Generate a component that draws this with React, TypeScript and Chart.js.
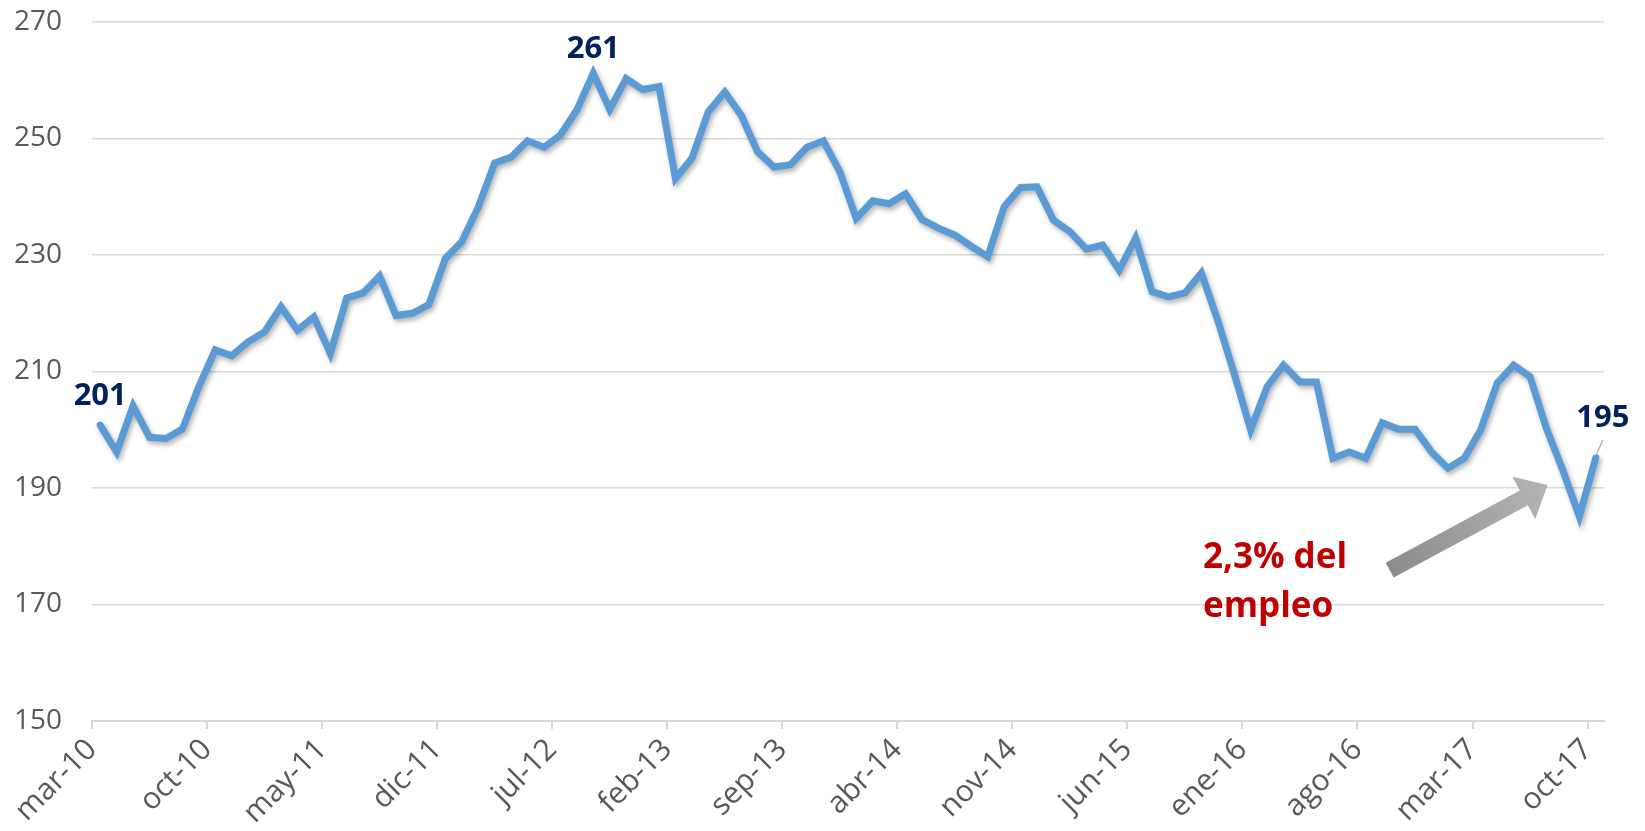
import React, { useEffect, useRef } from 'react';
import { Chart, registerables } from 'chart.js';

Chart.register(...registerables);

// ---- data ----
const tickLabels = ['mar-10', 'oct-10', 'may-11', 'dic-11', 'jul-12', 'feb-13', 'sep-13', 'abr-14', 'nov-14', 'jun-15', 'ene-16', 'ago-16', 'mar-17', 'oct-17'];
const monthsPerTick = 7;
const monthCount = 92; // mar-10 .. oct-17

const values = [
  200.8, 196.2, 204.1, 198.7, 198.5, 200.1, 207.4, 213.7, 212.7, 215.1,
  216.8, 221.1, 217.1, 219.4, 213.1, 222.6, 223.5, 226.4, 219.6, 220.0,
  221.5, 229.4, 232.3, 238.2, 245.8, 246.8, 249.6, 248.5, 250.6, 254.9,
  261.2, 255.0, 260.3, 258.4, 258.9, 243.1, 246.6, 254.6, 258.0, 254.0,
  247.7, 245.1, 245.5, 248.5, 249.6, 244.3, 236.3, 239.3, 238.8, 240.5,
  236.1, 234.6, 233.4, 231.5, 229.7, 238.3, 241.6, 241.7, 236.0, 234.0,
  231.0, 231.7, 227.4, 232.9, 223.7, 222.8, 223.5, 226.9, 218.8, 209.6,
  200.0, 207.4, 211.1, 208.2, 208.2, 195.1, 196.2, 195.1, 201.2, 200.1,
  200.1, 196.2, 193.4, 195.1, 200.0, 208.0, 211.1, 209.1, 200.2, 193.0,
  185.1, 195.2,
];

const yMin = 150;
const yMax = 270;
const yStep = 20;

// labelled points: index and text
const labelIndices = [0, 30, 91];
const labelTexts = ['201', '261', '195'];

// annotation
const noteLines = ['2,3% del', 'empleo'];

const FONT = '"Open Sans", "Liberation Sans", sans-serif';

export default function App() {
  const canvasRef = useRef<HTMLCanvasElement | null>(null);

  useEffect(() => {
    const canvas = canvasRef.current;
    if (!canvas) return;

    const labelOffsets = [
      { dx: 0, dy: -29, leader: false },
      { dx: 0, dy: -24, leader: false },
      { dx: 7, dy: -40, leader: true },
    ];

    const overlay = {
      id: 'overlay',
      beforeDatasetsDraw(chart: any) {
        const ctx = chart.ctx;
        ctx.save();
        ctx.shadowColor = 'rgba(0,0,0,0.30)';
        ctx.shadowBlur = 5;
        ctx.shadowOffsetX = 2;
        ctx.shadowOffsetY = 3;
      },
      afterDatasetsDraw(chart: any) {
        const ctx = chart.ctx;
        ctx.restore();
        const xs = chart.scales.x;
        const ys = chart.scales.y;

        // arrow (anchored in data space)
        const tail = { x: xs.getPixelForValue(78.96), y: ys.getPixelForValue(175.9) };
        const tip = { x: xs.getPixelForValue(88.57), y: ys.getPixelForValue(190.5) };
        const ddx = tip.x - tail.x;
        const ddy = tip.y - tail.y;
        const len = Math.hypot(ddx, ddy);
        const ux = ddx / len, uy = ddy / len;
        const nx = -uy, ny = ux;
        const shaftHalf = 8.5, headLen = 27, headHalf = 24;
        const bx = tip.x - ux * headLen, by = tip.y - uy * headLen;
        const grad = ctx.createLinearGradient(tail.x, tail.y, tip.x, tip.y);
        grad.addColorStop(0, '#8c8c8c');
        grad.addColorStop(1, '#b4b4b4');
        ctx.save();
        ctx.fillStyle = grad;
        ctx.beginPath();
        ctx.moveTo(tail.x + nx * shaftHalf, tail.y + ny * shaftHalf);
        ctx.lineTo(bx + nx * shaftHalf, by + ny * shaftHalf);
        ctx.lineTo(bx + nx * headHalf, by + ny * headHalf);
        ctx.lineTo(tip.x, tip.y);
        ctx.lineTo(bx - nx * headHalf, by - ny * headHalf);
        ctx.lineTo(bx - nx * shaftHalf, by - ny * shaftHalf);
        ctx.lineTo(tail.x - nx * shaftHalf, tail.y - ny * shaftHalf);
        ctx.closePath();
        ctx.fill();
        ctx.restore();

        // data labels
        ctx.save();
        ctx.font = `bold 31px ${FONT}`;
        ctx.fillStyle = '#002060';
        ctx.textAlign = 'center';
        ctx.textBaseline = 'middle';
        labelIndices.forEach((idx, k) => {
          const px = xs.getPixelForValue(idx + 0.5);
          const py = ys.getPixelForValue(values[idx]);
          const o = labelOffsets[k];
          ctx.fillText(labelTexts[k], px + o.dx, py + o.dy);
          if (o.leader) {
            ctx.save();
            ctx.strokeStyle = '#a6a6a6';
            ctx.lineWidth = 1.2;
            ctx.beginPath();
            ctx.moveTo(px + 1, py - 4);
            ctx.lineTo(px + 7, py - 18);
            ctx.stroke();
            ctx.restore();
          }
        });
        ctx.restore();

        // annotation text
        ctx.save();
        ctx.font = `bold 35px ${FONT}`;
        ctx.fillStyle = '#C00000';
        ctx.textAlign = 'left';
        ctx.textBaseline = 'alphabetic';
        const ax = xs.getPixelForValue(67.6);
        const ay = ys.getPixelForValue(176.3);
        noteLines.forEach((t, k) => ctx.fillText(t, ax, ay + k * 49));
        ctx.restore();
      },
    };

    const chart = new Chart(canvas, {
      type: 'line',
      data: {
        datasets: [
          {
            data: values.map((v, i) => ({ x: i + 0.5, y: v })),
            borderColor: '#5B9BD5',
            borderWidth: 7,
            pointRadius: 0,
            tension: 0,
            borderJoinStyle: 'miter',
            borderCapStyle: 'round',
            fill: false,
          },
        ],
      },
      options: {
        animation: false,
        responsive: false,
        maintainAspectRatio: false,
        layout: { padding: { left: 0, right: 41, top: 22, bottom: 0 } },
        plugins: {
          legend: { display: false },
          tooltip: { enabled: false },
        },
        scales: {
          x: {
            type: 'linear',
            min: 0,
            max: monthCount,
            afterBuildTicks: (s: any) => {
              s.ticks = tickLabels.map((_, k) => ({ value: k * monthsPerTick }));
            },
            afterFit: (s: any) => {
              s.height = 110;
              s.paddingLeft = 0;
              s.paddingRight = 0;
              s.paddingTop = 0;
              s.paddingBottom = 0;
            },
            ticks: {
              autoSkip: false,
              maxRotation: 45,
              minRotation: 45,
              padding: 3,
              color: '#595959',
              font: { family: FONT, size: 30 },
              callback: (value: any) => tickLabels[Math.round(Number(value) / monthsPerTick)] ?? '',
            },
            grid: {
              drawOnChartArea: false,
              drawTicks: true,
              tickLength: 8,
              color: '#d9d9d9',
              lineWidth: 2,
            },
            border: { display: true, color: '#d9d9d9', width: 2 },
          },
          y: {
            min: yMin,
            max: yMax,
            afterFit: (s: any) => {
              s.width = 92;
              s.paddingLeft = 0;
              s.paddingRight = 0;
              s.paddingTop = 0;
              s.paddingBottom = 0;
            },
            ticks: {
              stepSize: yStep,
              padding: 30,
              color: '#595959',
              font: { family: FONT, size: 28 },
            },
            grid: { color: '#d9d9d9', lineWidth: 1.5, drawTicks: false },
            border: { display: false },
          },
        },
      },
      plugins: [overlay],
    } as any);

    return () => chart.destroy();
  }, []);

  return (
    <div style={{ position: 'absolute', left: 0, top: 0, width: 1645, height: 831, background: '#ffffff' }}>
      <canvas ref={canvasRef} width={1645} height={831} style={{ display: 'block', width: 1645, height: 831 }} />
    </div>
  );
}
